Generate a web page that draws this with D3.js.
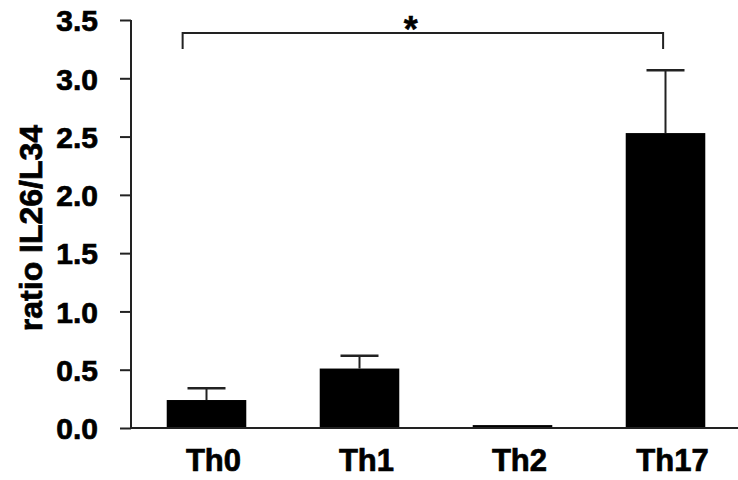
<!DOCTYPE html>
<html><head><meta charset="utf-8">
<script src="https://cdn.jsdelivr.net/npm/d3@7"></script>
<style>body{margin:0;background:#fff}text{font-family:"Liberation Sans",Arial,sans-serif;font-weight:bold;fill:#000}</style>
</head><body>
<svg id="c" width="738" height="480"></svg>
<script>
const categories = ["Th0","Th1","Th2","Th17"];
const values = [0.24, 0.51, 0.025, 2.53];
const errors = [0.10, 0.11, 0.0, 0.54];
const yTicks = [0,0.5,1.0,1.5,2.0,2.5,3.0,3.5];
const yTitle = "ratio IL26/L34";
const sigLabel = "*";

const svg = d3.select("#c");
const x = d3.scaleBand().domain(categories).range([130,742]).paddingInner(0.48).paddingOuter(0.24);
const y = d3.scaleLinear().domain([0,3.5]).range([428,20]);
const ink = "#222";
const ff = "Liberation Sans, Arial, sans-serif";

// bars
svg.selectAll("rect.bar").data(categories).enter().append("rect")
  .attr("x", d=>x(d)).attr("width", x.bandwidth())
  .attr("y", (d,i)=>y(values[i])).attr("height",(d,i)=>y(0)-y(values[i]))
  .attr("fill","#000");

// error bars
const eb = svg.selectAll("g.err").data(categories.filter((d,i)=>errors[i]>0)).enter().append("g");
eb.append("line")
  .attr("x1", d=>x(d)+x.bandwidth()/2).attr("x2", d=>x(d)+x.bandwidth()/2)
  .attr("y1", d=>y(values[categories.indexOf(d)]))
  .attr("y2", d=>{const i=categories.indexOf(d);return y(values[i]+errors[i]);})
  .attr("stroke",ink).attr("stroke-width",2);
eb.append("line")
  .attr("x1", d=>x(d)+x.bandwidth()/2-19).attr("x2", d=>x(d)+x.bandwidth()/2+19)
  .attr("y1", d=>{const i=categories.indexOf(d);return y(values[i]+errors[i]);})
  .attr("y2", d=>{const i=categories.indexOf(d);return y(values[i]+errors[i]);})
  .attr("stroke",ink).attr("stroke-width",2.5);

// y axis
const yAxis = d3.axisLeft(y).tickValues(yTicks).tickFormat(d3.format(".1f")).tickSize(11).tickPadding(22);
const gy = svg.append("g").attr("transform","translate(131,0)").call(yAxis);
gy.select(".domain").attr("stroke",ink).attr("stroke-width",2).attr("d","M0,20V428");
gy.selectAll(".tick line").attr("stroke",ink).attr("stroke-width",2);
gy.selectAll(".tick text").attr("font-size",30).attr("font-family",ff).attr("font-weight","bold")
  .attr("fill","#000").attr("stroke","#000").attr("stroke-width",0.7).attr("dy","0.36em");

// x axis
const xAxis = d3.axisBottom(x).tickSize(0).tickPadding(21);
const gx = svg.append("g").attr("transform","translate(0,428)").call(xAxis);
gx.select(".domain").attr("stroke",ink).attr("stroke-width",2).attr("d","M131,0H738");
gx.selectAll(".tick text").attr("font-size",31).attr("font-family",ff).attr("font-weight","bold")
  .attr("fill","#000").attr("stroke","#000").attr("stroke-width",0.7).attr("dx","7").attr("dy","0.71em");

// y title
svg.append("text").attr("transform","translate(42,228) rotate(-90)")
  .attr("text-anchor","middle").attr("font-size",32).attr("stroke","#000").attr("stroke-width",0.7).text(yTitle);

// significance bracket
const bx1 = x("Th0")+x.bandwidth()*0.2, bx2 = x("Th17")+x.bandwidth()*0.47;
svg.append("path").attr("d",`M${bx1},49V33H${bx2}V49`).attr("fill","none").attr("stroke",ink).attr("stroke-width",2);
svg.append("text").attr("x",(bx1+bx2)/2-12).attr("y",42).attr("text-anchor","middle").attr("font-size",36).attr("stroke","#000").attr("stroke-width",0.5).text(sigLabel);
</script>
</body></html>
